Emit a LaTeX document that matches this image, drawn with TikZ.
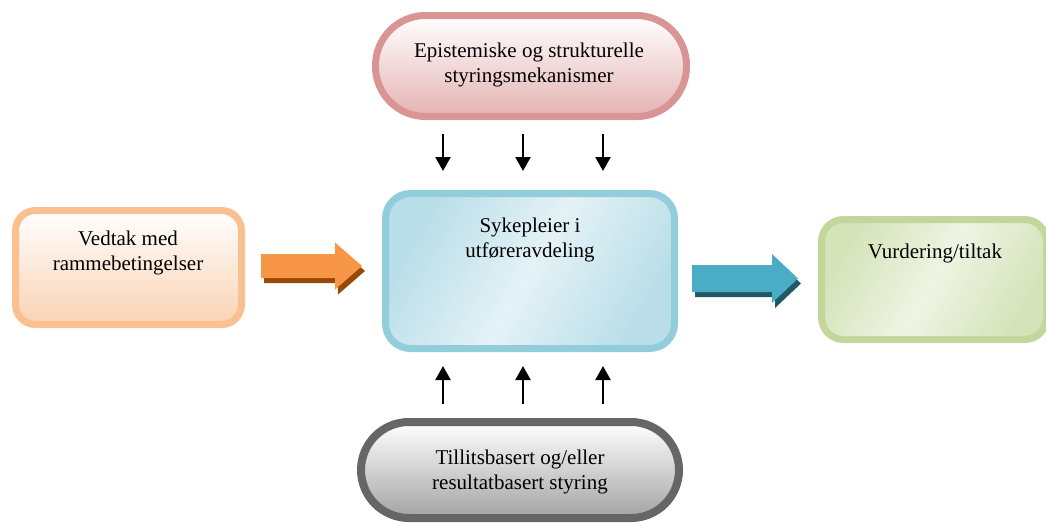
\documentclass[tikz,border=0pt]{standalone}
\usepackage{fontspec}
\setmainfont{Liberation Serif}
\usetikzlibrary{shadows,arrows.meta,calc}
\definecolor{pinkB}{HTML}{D99594}
\definecolor{pinkF}{HTML}{E4B3B2}
\definecolor{orB}{HTML}{FAC08F}
\definecolor{orF}{HTML}{FAD2B2}
\definecolor{blB}{HTML}{92CDDC}
\definecolor{blF}{HTML}{B9DEE8}
\definecolor{blL}{HTML}{E4F2F6}
\definecolor{grB}{HTML}{C3D69B}
\definecolor{grF}{HTML}{D5E3B9}
\definecolor{grL}{HTML}{EEF4E3}
\definecolor{gyB}{HTML}{666666}
\definecolor{gyF}{HTML}{A3A3A3}
\definecolor{arO}{HTML}{F79646}
\definecolor{arOS}{HTML}{984807}
\definecolor{arB}{HTML}{4BACC6}
\definecolor{arBS}{HTML}{215868}
\tikzset{
  boxbase/.style={draw, line width=7pt, inner sep=0pt,
    drop shadow={shadow xshift=2pt, shadow yshift=-3pt, opacity=0.35}},
  txt/.style={align=center, font=\fontsize{21}{25}\selectfont, inner sep=0pt},
  thinarrow/.style={line width=2.4pt, -{Triangle[width=15pt,length=14pt]}},
  pics/blockarrow/.style args={#1/#2/#3/#4/#5}{code={
    % #1 shaft length, #2 half shaft, #3 head length, #4 half head, #5 colour
    \path[fill=#5] (0,-#2) -- (#1,-#2) -- (#1,-#4) -- ({#1+#3},0) -- (#1,#4) -- (#1,#2) -- (0,#2) -- cycle;
  }}
}
\begin{document}
\begin{tikzpicture}[x=1pt,y=-1pt]
\useasboundingbox (0,0) rectangle (1046,525);
% top pill
\node[boxbase, draw=pinkB, top color=white, bottom color=pinkF,
  minimum width=311pt, minimum height=101pt, rounded corners=50pt] (top) at (531,66) {};
\node[txt] (toptxt) at (529,65) {Epistemiske og strukturelle\\styringsmekanismer};
% left box
\node[boxbase, draw=orB, top color=white, bottom color=orF,
  minimum width=226pt, minimum height=114pt, rounded corners=20pt] (left) at (128.5,267.5) {};
\node[txt] (lefttxt) at (128,253) {Vedtak med\\rammebetingelser};
% center box
\node[boxbase, draw=blB, left color=blF, right color=blF, middle color=blL, shading angle=60,
  minimum width=289pt, minimum height=155pt, rounded corners=25pt] (center) at (530,271) {};
\node[txt] (centertxt) at (530,240) {Sykepleier i\\utføreravdeling};
% right box
\node[boxbase, draw=grB, left color=grF, right color=grF, middle color=grL, shading angle=60,
  minimum width=225pt, minimum height=120pt, rounded corners=22pt] (right) at (934,279.5) {};
\node[txt] (righttxt) at (935,253) {Vurdering/tiltak};
% bottom pill
\node[boxbase, draw=gyB, line width=8pt, top color=white, bottom color=gyF,
  minimum width=318pt, minimum height=96pt, rounded corners=48pt] (bottom) at (520,470) {};
\node[txt] (bottomtxt) at (520,472) {Tillitsbasert og/eller\\resultatbasert styring};
% block arrows
\coordinate (aL) at (261,266);
\coordinate (aR) at (692,278.5);
\pic[shift={(3,5)}] at (aL) {blockarrow={74/12/27/23.5/arOS}};
\pic at (aL) {blockarrow={74/12/27/23.5/arO}};
\pic[shift={(3,5)}] at (aR) {blockarrow={80/13.5/26/24.5/arBS}};
\pic at (aR) {blockarrow={80/13.5/26/24.5/arB}};
% thin arrows
\foreach \i/\x in {1/443,2/523,3/603}{
  \coordinate (d\i s) at (\x,134);
  \coordinate (d\i e) at (\x,171);
  \coordinate (u\i s) at (\x,404);
  \coordinate (u\i e) at (\x,366);
  \draw[thinarrow] (d\i s) -- (d\i e);
  \draw[thinarrow] (u\i s) -- (u\i e);
}
\end{tikzpicture}
\end{document}
